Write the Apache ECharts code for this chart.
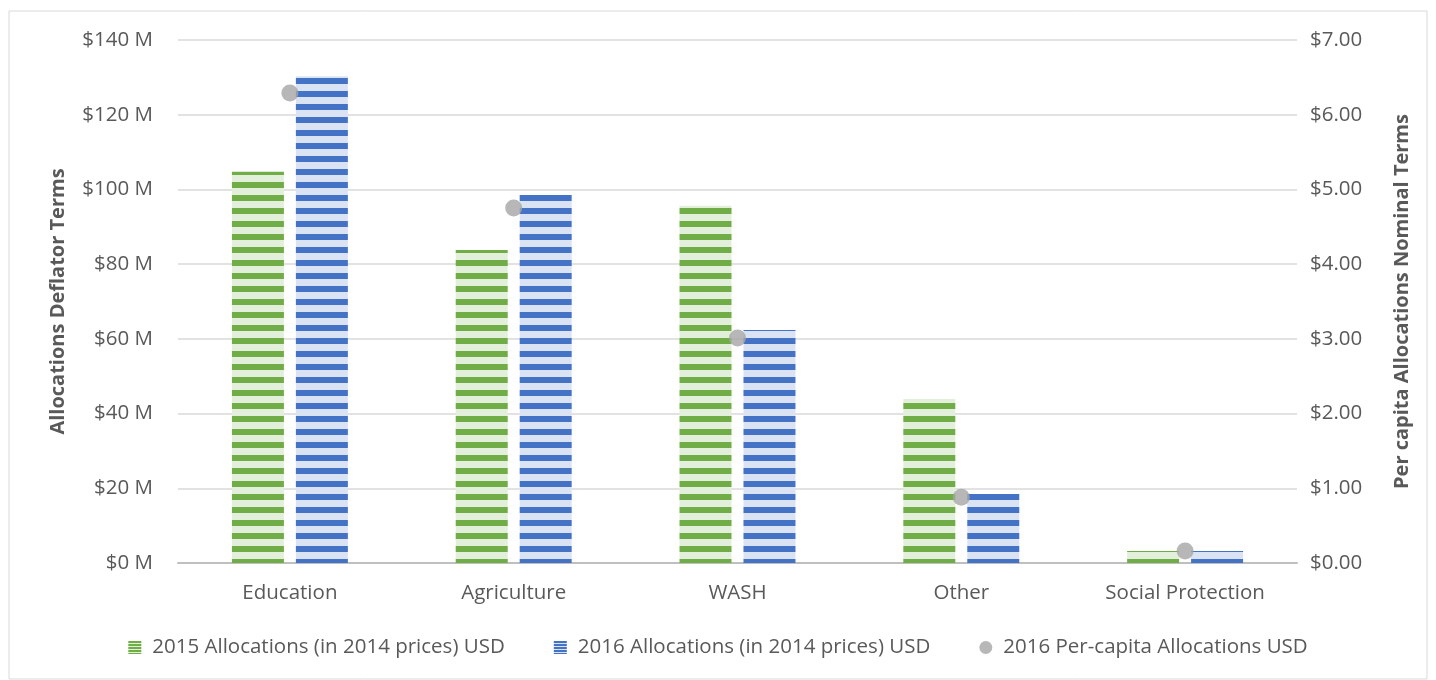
<!DOCTYPE html>
<html><head><meta charset="utf-8">
<script src="https://cdn.jsdelivr.net/npm/echarts@6/dist/echarts.min.js"></script>
<style>html,body{margin:0;padding:0;background:#fff}#c{width:1436px;height:680px}</style>
</head><body><div id="c"></div>
<script>
const categories = ['Education', 'Agriculture', 'WASH', 'Other', 'Social Protection'];
const alloc2015 = [104.7, 83.8, 95.6, 43.9, 3.2];
const alloc2016 = [130.3, 98.5, 62.4, 18.5, 3.2];
const perCapita2016 = [6.29, 4.75, 3.01, 0.88, 0.16];
const leftTicks = [0, 20, 40, 60, 80, 100, 120, 140];
const rightTicks = [0, 1, 2, 3, 4, 5, 6, 7];

function stripe(dark, light, period, band) {
  const c = document.createElement('canvas');
  c.width = period; c.height = period;
  const g = c.getContext('2d');
  g.fillStyle = light; g.fillRect(0, 0, period, period);
  g.fillStyle = dark; g.fillRect(0, 0, period, band);
  return { image: c, repeat: 'repeat' };
}
const greenPat = stripe('#70ad47', '#e2efda', 13, 6);
const bluePat = stripe('#4472c4', '#dae3f3', 13, 6);
const greenIcon = stripe('#70ad47', '#e2efda', 3, 2);
const blueIcon = stripe('#4472c4', '#dae3f3', 3, 2);
const font = '"Open Sans", "Noto Sans", sans-serif';
const fs = 20.5;

const chart = echarts.init(document.getElementById('c'));
chart.setOption({
  animation: false,
  graphic: [{ type: 'rect', shape: { x: 9, y: 11, width: 1418, height: 668 }, style: { fill: 'none', stroke: '#d9d9d9', lineWidth: 1 }, silent: true }],
  grid: { left: 178, right: 139, top: 40, bottom: 117 },
  legend: {
    bottom: 17, left: 'center', itemWidth: 13, itemHeight: 13, itemGap: 49,
    textStyle: { fontFamily: font, fontSize: fs, color: '#595959', padding: [0, 0, 0, 6] },
    data: [
      { name: '2015 Allocations (in 2014 prices) USD', icon: 'rect', itemStyle: { color: greenIcon } },
      { name: '2016 Allocations (in 2014 prices) USD', icon: 'rect', itemStyle: { color: blueIcon } },
      { name: '2016 Per-capita Allocations USD', icon: 'circle' }
    ]
  },
  xAxis: {
    type: 'category', data: categories,
    axisLine: { lineStyle: { color: '#bfbfbf', width: 2 } },
    axisTick: { show: false },
    axisLabel: { fontFamily: font, fontSize: fs, color: '#595959', margin: 20 }
  },
  yAxis: [{
    type: 'value', min: 0, max: 140, interval: 20,
    name: 'Allocations Deflator Terms', nameLocation: 'middle', nameGap: 110, nameRotate: 90,
    nameTextStyle: { fontFamily: font, fontSize: 20, fontWeight: 'bold', color: '#595959' },
    axisLine: { show: false }, axisTick: { show: false },
    splitLine: { lineStyle: { color: '#d9d9d9', width: 1.5 } },
    axisLabel: { fontFamily: font, fontSize: fs, color: '#595959', margin: 25, formatter: v => '$' + v + ' M' }
  }, {
    type: 'value', min: 0, max: 7, interval: 1,
    name: 'Per capita Allocations Nominal Terms', nameLocation: 'middle', nameGap: 95, nameRotate: 90,
    nameTextStyle: { fontFamily: font, fontSize: 20, fontWeight: 'bold', color: '#595959' },
    axisLine: { show: false }, axisTick: { show: false }, splitLine: { show: false },
    axisLabel: { fontFamily: font, fontSize: fs, color: '#595959', margin: 13, formatter: v => '$' + v.toFixed(2) }
  }],
  series: [{
    name: '2015 Allocations (in 2014 prices) USD', type: 'bar', data: alloc2015,
    barWidth: 52, barGap: '23%', itemStyle: { color: greenPat }
  }, {
    name: '2016 Allocations (in 2014 prices) USD', type: 'bar', data: alloc2016,
    barWidth: 52, itemStyle: { color: bluePat }
  }, {
    name: '2016 Per-capita Allocations USD', type: 'scatter', yAxisIndex: 1, data: perCapita2016,
    symbolSize: 17, itemStyle: { color: '#a5a5a5' }
  }]
});
</script></body></html>
